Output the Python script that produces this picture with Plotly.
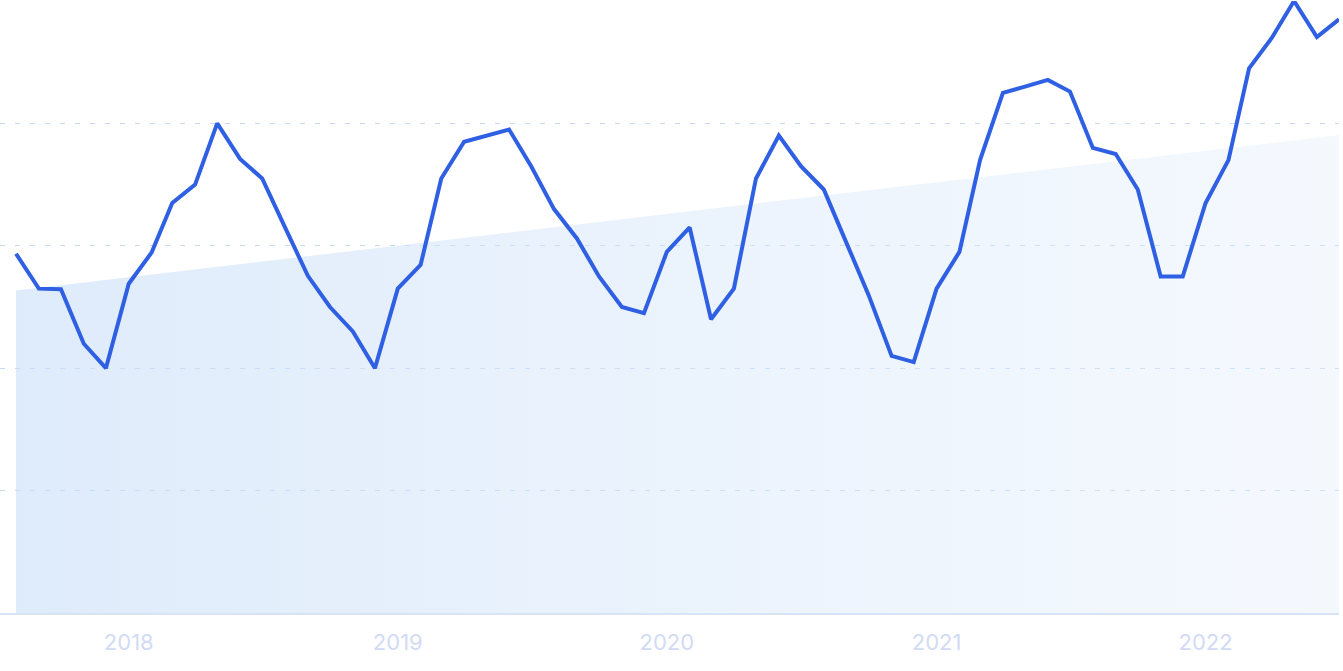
import pandas as pd
import plotly.graph_objects as go

months = pd.date_range("2017-08-01", "2022-07-01", freq="MS")
values = [58.7, 53, 52.9, 44, 40, 53.8, 58.9, 67, 70, 80,
          74.2, 71, 63, 55.1, 50, 46, 40, 53, 56.9, 71,
          77, 78, 79, 73, 66, 61.2, 55, 50, 49, 59,
          63, 48, 53, 71, 78, 73, 69.2, 60.4, 51.9, 42,
          41, 53, 59, 74, 85, 86, 87.1, 85.2, 76, 75,
          69.2, 55, 55, 67, 74, 89, 94, 100, 94.1, 97]
trend_dates = [months[0], months[-1]]
trend_values = [52.7, 78.1]
tick_dates = ["2018-01-01", "2019-01-01", "2020-01-01", "2021-01-01", "2022-01-01"]
tick_labels = ["2018", "2019", "2020", "2021", "2022"]

fig = go.Figure()
fig.add_trace(go.Scatter(
    x=trend_dates, y=trend_values, mode="lines", line=dict(width=0),
    fill="tozeroy",
    fillgradient=dict(type="horizontal",
                      colorscale=[[0, "rgba(200,222,248,0.6)"], [1, "rgba(225,237,252,0.35)"]]),
    hoverinfo="skip", showlegend=False))
fig.add_trace(go.Scatter(
    x=months, y=values, mode="lines",
    line=dict(color="#2f5fe3", width=4), showlegend=False))

fig.update_layout(
    width=1343, height=671,
    margin=dict(l=0, r=4, t=1, b=58),
    paper_bgcolor="white", plot_bgcolor="white",
    font=dict(family="Inter, Roboto, sans-serif"),
)
fig.update_xaxes(
    range=[pd.Timestamp("2017-08-01") - pd.Timedelta(days=21.7), pd.Timestamp("2022-07-01")],
    tickvals=tick_dates, ticktext=tick_labels,
    tickfont=dict(size=22, color="#d2dbf4"),
    showgrid=False, showline=True, linecolor="#d8e3f5", linewidth=2,
    ticks="", ticklabelstandoff=9, zeroline=False,
)
fig.update_yaxes(
    range=[0, 100], tickvals=[0, 20, 40, 60, 80, 100], showticklabels=False,
    showgrid=True, gridcolor="#c4dbf8", gridwidth=1.2, griddash="5px,10px",
    zeroline=False, showline=False,
)
fig.write_html("out.html", config={"displayModeBar": False},
               post_script="document.body.style.margin='0';document.body.style.overflow='hidden';")
